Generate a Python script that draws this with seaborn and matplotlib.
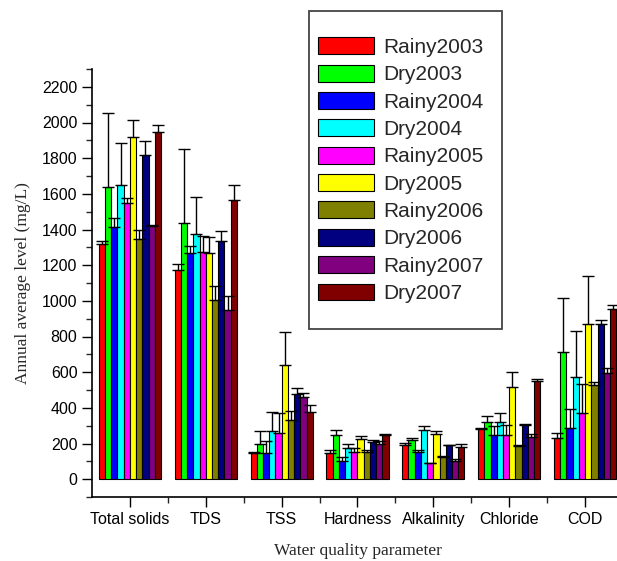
import matplotlib
matplotlib.use('Agg')
import matplotlib.pyplot as plt
import seaborn as sns
import numpy as np
import pandas as pd
from matplotlib.ticker import MultipleLocator
from matplotlib.patches import Rectangle

# Data
parameters = ['Total solids', 'TDS', 'TSS', 'Hardness', 'Alkalinity', 'Chloride', 'COD']
series = ['Rainy2003', 'Dry2003', 'Rainy2004', 'Dry2004', 'Rainy2005',
          'Dry2005', 'Rainy2006', 'Dry2006', 'Rainy2007', 'Dry2007']
colors = ['#FF0000', '#00FF00', '#0000FF', '#00FFFF', '#FF00FF',
          '#FFFF00', '#808000', '#000080', '#800080', '#800000']

rainy2003 = [1320, 1175, 144, 149, 190, 280, 230]
dry2003 = [1636, 1435, 196, 250, 217, 323, 713]
rainy2004 = [1416, 1267, 149, 101, 151, 250, 289]
dry2004 = [1648, 1375, 272, 177, 274, 323, 573]
rainy2005 = [1547, 1274, 261, 155, 88, 246, 373]
dry2005 = [1916, 1267, 638, 226, 256, 517, 871]
rainy2006 = [1347, 1006, 334, 153, 125, 187, 530]
dry2006 = [1817, 1336, 478, 207, 192, 302, 871]
rainy2007 = [1418, 950, 463, 196, 101, 239, 597]
dry2007 = [1944, 1566, 377, 250, 183, 549, 952]

# upper error (one-sided bars)
err_rainy2003 = [14, 34, 11, 17, 13, 5, 29]
err_dry2003 = [418, 418, 74, 28, 12, 34, 302]
err_rainy2004 = [49, 41, 65, 24, 10, 47, 105]
err_dry2004 = [237, 209, 106, 21, 24, 46, 259]
err_rainy2005 = [28, 90, 112, 20, 3, 58, 161]
err_dry2005 = [99, 89, 190, 18, 14, 86, 267]
err_rainy2006 = [52, 78, 50, 8, 4, 7, 17]
err_dry2006 = [77, 56, 33, 10, 2, 6, 19]
err_rainy2007 = [9, 78, 20, 17, 13, 15, 28]
err_dry2007 = [43, 81, 39, 2, 17, 11, 24]

vals = [rainy2003, dry2003, rainy2004, dry2004, rainy2005,
        dry2005, rainy2006, dry2006, rainy2007, dry2007]
errs = [err_rainy2003, err_dry2003, err_rainy2004, err_dry2004, err_rainy2005,
        err_dry2005, err_rainy2006, err_dry2006, err_rainy2007, err_dry2007]

rows = []
for s, v in zip(series, vals):
    for p, y in zip(parameters, v):
        rows.append({'parameter': p, 'series': s, 'value': y})
df = pd.DataFrame(rows)

sns.set_style('ticks')
plt.rcParams['font.family'] = ['Liberation Sans', 'DejaVu Sans']

fig = plt.figure(figsize=(6.17, 5.61), dpi=100)
ax = fig.add_axes([92/617, 64/561, 531/617, 428/561])

sns.barplot(data=df, x='parameter', y='value', hue='series', order=parameters,
            hue_order=series, palette=colors, width=0.82, errorbar=None,
            edgecolor='black', linewidth=0.8, saturation=1, ax=ax, legend=False)

# one-sided error bars on top of each bar
for cont, e in zip(ax.containers, errs):
    xs = [b.get_x() + b.get_width() / 2 for b in cont]
    hs = [b.get_height() for b in cont]
    ax.errorbar(xs, hs, yerr=[np.zeros(len(e)), e], fmt='none', ecolor='black',
                elinewidth=1, capsize=4.5, capthick=1)

ax.set_xlim(-0.5, 6.5)
ax.set_ylim(-100, 2300)
ax.yaxis.set_minor_locator(MultipleLocator(100))
ax.set_yticks(np.arange(0, 2201, 200))
ax.set_xticks(np.arange(len(parameters)))
ax.set_xticks(np.arange(len(parameters)) + 0.5, minor=True)
ax.set_xticklabels(parameters)
ax.tick_params(axis='both', which='major', direction='out', length=7, width=1, labelsize=11.5, colors='black')
ax.tick_params(axis='both', which='minor', direction='out', length=4, width=1)
sns.despine(ax=ax)
for sp in ['left', 'bottom']:
    ax.spines[sp].set_linewidth(1.2)
    ax.spines[sp].set_color('black')

ax.set_xlabel('Water quality parameter', family='Liberation Serif', fontsize=12.5, labelpad=12)
ax.set_ylabel('Annual average level (mg/L)', family='Liberation Serif', fontsize=12.5, labelpad=8)

# legend frame drawn separately (extra blank space above and below entries)
frame = Rectangle((309/617, 1 - 329/561), 193/617, 318/561, transform=fig.transFigure,
                  facecolor='white', edgecolor='#444444', linewidth=1.3, zorder=4)
fig.patches.append(frame)

handles = [plt.Rectangle((0, 0), 1, 1, facecolor=c, edgecolor='black', linewidth=0.8) for c in colors]
leg = fig.legend(handles, series, loc='upper left', bbox_to_anchor=(310/617, 1 - 29/561),
                 borderaxespad=0, fontsize=15, handlelength=2.65, handleheight=0.87,
                 handletextpad=0.45, labelspacing=0.37, borderpad=0.4, frameon=False)
leg.set_zorder(5)

fig.savefig('out.png', dpi=100)
